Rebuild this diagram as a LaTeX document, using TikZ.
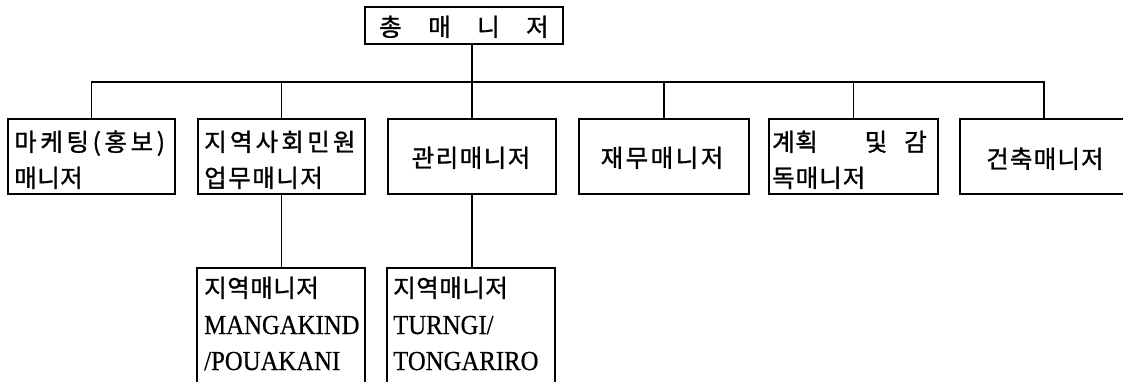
\documentclass[tikz,border=0pt]{standalone}
\usepackage{fontspec}
\setmainfont{Liberation Serif}[FakeBold=0.5]
\newfontfamily\kr{Noto Sans CJK KR}[FakeBold=1.2]
% extra tracking between Hangul letters
\newdimen\hk \hk=0.5pt
\XeTeXinterchartokenstate=1
\newXeTeXintercharclass\hangulclass
\count255="AC00
\loop
  \XeTeXcharclass\count255=\hangulclass
  \advance\count255 by 1
\ifnum\count255<"D7A4 \repeat
\XeTeXcharclass`(=\hangulclass
\XeTeXcharclass`)=\hangulclass
\XeTeXinterchartoks\hangulclass\hangulclass={\kern\hk}
\newcommand{\lat}[1]{\scalebox{0.9}[1]{#1}}
\begin{document}
\begin{tikzpicture}[x=1pt,y=-1pt,
  box/.style={draw,line width=1.6pt,inner sep=0pt,minimum height=75pt},
  openbox/.style={inner sep=0pt},
  ln/.style={line width=1.6pt},
  kt/.style={inner sep=0pt,font=\kr\fontsize{24.5}{28}\selectfont},
  lt/.style={inner sep=0pt,font=\fontsize{27.5}{30}\selectfont}]
\useasboundingbox (0,0) rectangle (1123,381);
% top
\node[box,minimum width=198pt,minimum height=37pt] (top) at (464,25.5) {};
\node[kt,anchor=base] (toptext) at (464,36)
  {\makebox[49pt]{총}\makebox[49pt]{매}\makebox[49pt]{니}\makebox[49pt]{저}};
% row boxes
\node[box,minimum width=167pt] (b1) at (91.5,156.5) {};
\node[box,minimum width=167pt] (b2) at (281.5,156.5) {};
\node[box,minimum width=168pt] (b3) at (472,156.5) {};
\node[box,minimum width=170pt] (b4) at (664,156.5) {};
\node[box,minimum width=169pt] (b5) at (853.5,156.5) {};
\node[openbox,minimum width=168pt,minimum height=75pt] (b6) at (1044,156.5) {};
\draw[ln] (b6.north east) -- (b6.north west) -- (b6.south west) -- (b6.south east);
% bottom boxes (open at the bottom)
\node[openbox,minimum width=168pt,minimum height=124pt] (bA) at (281,330) {};
\draw[ln] (bA.south west) -- (bA.north west) -- (bA.north east) -- (bA.south east);
\node[openbox,minimum width=168pt,minimum height=124pt] (bB) at (471,330) {};
\draw[ln] (bB.south west) -- (bB.north west) -- (bB.north east) -- (bB.south east);
% connectors
\coordinate (bus) at (0,82);
\draw[ln] (top.south -| b3.north) -- (b3.north |- bus);
\draw[ln] (b1.north) -- (b1.north |- bus) -- (b6.north |- bus) -- (b6.north);
\draw[ln] (b2.north) -- (b2.north |- bus);
\draw[ln] (b3.north) -- (b3.north |- bus);
\draw[ln] (b4.north) -- (b4.north |- bus);
\draw[ln] (b5.north) -- (b5.north |- bus);
\draw[ln] (b2.south) -- (bA.north -| b2.south);
\draw[ln] (b3.south) -- (bB.north -| b3.south);
% texts
\node[kt,anchor=base west] (t1a) at (14,151) {\hk=3.6pt 마케팅(홍보)};
\node[kt,anchor=base west] (t1b) at (14,187) {매니저};
\node[kt,anchor=base west] (t2a) at (204,151) {\hk=3.2pt 지역사회민원};
\node[kt,anchor=base west] (t2b) at (204,187) {\hk=1.5pt 업무매니저};
\node[kt,anchor=base] (t3) at (471,167) {\hk=1.5pt 관리매니저};
\node[kt,anchor=base] (t4) at (662,167) {\hk=2.5pt 재무매니저};
\node[kt,anchor=base west] (t5a) at (772,151) {계획};
\node[kt,anchor=base] (t5b) at (876,151) {및};
\node[kt,anchor=base east] (t5c) at (927,151) {감};
\node[kt,anchor=base west] (t5d) at (772,187) {\hk=1pt 독매니저};
\node[kt,anchor=base] (t6) at (1045,168) {\hk=1.2pt 건축매니저};
\node[kt,anchor=base west] (tAa) at (204,297) {지역매니저};
\node[lt,anchor=base west] (tAb) at (204,334) {\lat{MANGAKIND}};
\node[lt,anchor=base west] (tAc) at (204,370) {\lat{/POUAKANI}};
\node[kt,anchor=base west] (tBa) at (393,297) {지역매니저};
\node[lt,anchor=base west] (tBb) at (393,334) {\lat{TURNGI/}};
\node[lt,anchor=base west] (tBc) at (393,370) {\lat{TONGARIRO}};
\end{tikzpicture}
\end{document}
